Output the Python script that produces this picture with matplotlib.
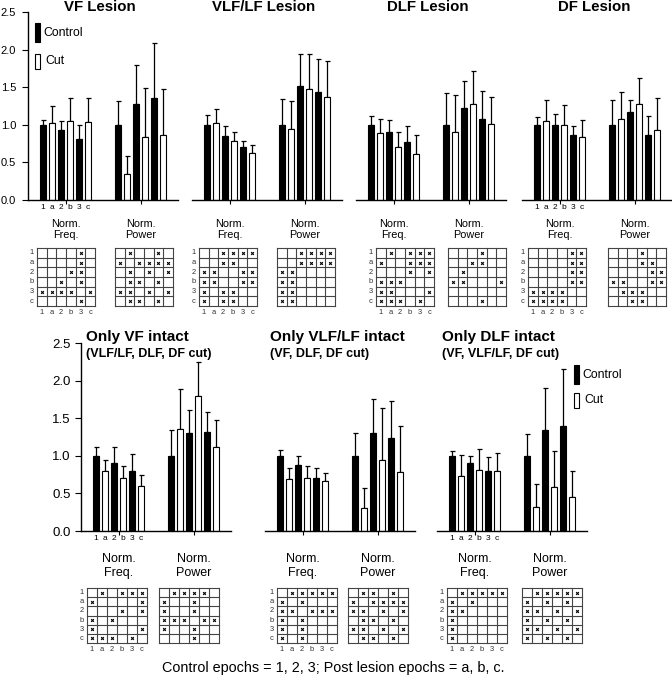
import numpy as np
import matplotlib
matplotlib.use("Agg")
import matplotlib.pyplot as plt
from matplotlib.patches import Rectangle

plt.rcParams['font.family'] = ['Liberation Sans', 'DejaVu Sans']

W, H = 672, 676

epochs = ["1", "a", "2", "b", "3", "c"]
group_labels = ["Norm.\nFreq.", "Norm.\nPower"]

# --- bar data (order 1, a, 2, b, 3, c) ---
vf_freq = [1.00, 1.02, 0.93, 1.05, 0.81, 1.04]
vf_freq_err = [0.07, 0.23, 0.12, 0.30, 0.19, 0.32]
vf_pow = [1.00, 0.34, 1.27, 0.84, 1.36, 0.87]
vf_pow_err = [0.32, 0.25, 0.52, 0.65, 0.73, 0.60]

vlf_freq = [1.00, 1.03, 0.85, 0.79, 0.70, 0.63]
vlf_freq_err = [0.13, 0.18, 0.13, 0.12, 0.09, 0.10]
vlf_pow = [1.00, 0.94, 1.52, 1.48, 1.44, 1.37]
vlf_pow_err = [0.34, 0.37, 0.42, 0.46, 0.43, 0.48]

dlf_freq = [1.00, 0.89, 0.91, 0.71, 0.77, 0.61]
dlf_freq_err = [0.12, 0.19, 0.15, 0.20, 0.21, 0.25]
dlf_pow = [1.00, 0.90, 1.22, 1.27, 1.08, 1.01]
dlf_pow_err = [0.42, 0.50, 0.36, 0.44, 0.37, 0.36]

df_freq = [1.00, 1.05, 1.00, 1.00, 0.86, 0.84]
df_freq_err = [0.10, 0.28, 0.14, 0.26, 0.13, 0.22]
df_pow = [1.00, 1.08, 1.17, 1.28, 0.87, 0.93]
df_pow_err = [0.33, 0.35, 0.16, 0.34, 0.25, 0.42]

onlyvf_freq = [1.00, 0.80, 0.91, 0.70, 0.80, 0.60]
onlyvf_freq_err = [0.12, 0.15, 0.21, 0.17, 0.23, 0.14]
onlyvf_pow = [1.00, 1.36, 1.30, 1.79, 1.31, 1.12]
onlyvf_pow_err = [0.34, 0.53, 0.31, 0.46, 0.27, 0.36]

onlyvlf_freq = [1.00, 0.69, 0.88, 0.70, 0.70, 0.66]
onlyvlf_freq_err = [0.08, 0.15, 0.12, 0.16, 0.14, 0.11]
onlyvlf_pow = [1.00, 0.30, 1.30, 0.95, 1.24, 0.79]
onlyvlf_pow_err = [0.30, 0.27, 0.45, 0.68, 0.49, 0.61]

onlydlf_freq = [1.00, 0.73, 0.90, 0.81, 0.80, 0.80]
onlydlf_freq_err = [0.06, 0.28, 0.10, 0.28, 0.19, 0.24]
onlydlf_pow = [1.00, 0.32, 1.34, 0.58, 1.40, 0.45]
onlydlf_pow_err = [0.29, 0.30, 0.56, 0.49, 0.76, 0.35]

# --- significance matrices (rows/cols = 1, a, 2, b, 3, c; x = significant) ---
vf_freq_sig = ["....x.", "....x.", "...xx.", "..x.x.", "xxxx.x", "....x."]
vf_pow_sig = [".x..x.", "x.xxxx", ".x.x.x", ".xx.x.", "xx.x.x", ".xx.x."]
vlf_freq_sig = ["..xxxx", "..xx..", "xx..xx", "xx..xx", "x.xx..", "x.xx.."]
vlf_pow_sig = ["..xxxx", "..xxxx", "xx....", "xx....", "xx....", "xx...."]
dlf_freq_sig = [".x.xxx", "x..xxx", "...x.x", "xxx...", "xx...x", "xxx.x."]
dlf_pow_sig = ["...x..", "..xx..", ".x....", "xx...x", "......", "...x.."]
df_freq_sig = ["....xx", "....xx", "....xx", "....xx", "xxxx..", "xxxx.."]
df_pow_sig = ["...x..", "...xx.", "....xx", "xx..xx", ".xxx..", "..xx.."]
onlyvf_freq_sig = [".x.xxx", "x....x", "...x.x", "x.x...", "x....x", "xxx.x."]
onlyvf_pow_sig = [".xxxx.", "x..x..", "x..x..", "xxx.xx", "x..x..", "...x.."]
onlyvlf_freq_sig = [".xxxxx", "x.x...", "xx.xxx", "x.x...", "x.x...", "x.x..."]
onlyvlf_pow_sig = [".xx.x.", "x.xxxx", "xx.x.x", ".xx.x.", "xx.x.x", ".xx.x."]
onlydlf_freq_sig = [".xxxxx", "x.x...", "xx....", "x.....", "x.....", "x....."]
onlydlf_pow_sig = [".xxxxx", "x.x.x.", "xx.x.x", "x.x.x.", "xx.x.x", "x.x.x."]

fig = plt.figure(figsize=(W / 100, H / 100), dpi=100)


def px_axes(x0, y_top, x1, y_bot):
    return fig.add_axes([x0 / W, 1 - y_bot / H, (x1 - x0) / W, (y_bot - y_top) / H])


def draw_bars(ax, freq, freq_err, power, power_err, show_y, show_epochs, big):
    offsets = (np.arange(6) - 2.5) * 0.238
    colors = ["black", "white"] * 3
    for center, vals, errs in [(1, freq, freq_err), (3, power, power_err)]:
        xs = center + offsets
        ax.errorbar(xs, vals, yerr=[np.zeros(6), errs], fmt="none", ecolor="black",
                    elinewidth=0.9, capsize=1.8, capthick=0.9, zorder=1)
        ax.bar(xs, vals, width=0.168, color=colors, edgecolor="black", linewidth=0.8, zorder=2)
    ax.set_xlim(0, 4)
    ax.set_ylim(0, 2.5)
    for s in ["top", "right"]:
        ax.spines[s].set_visible(False)
    ax.spines["bottom"].set_linewidth(1.0)
    ax.patch.set_visible(False)
    ax.set_xticks([1, 3])
    if big:
        ax.set_xticklabels(group_labels, fontsize=9, linespacing=1.2)
        ax.tick_params(axis="x", length=3, pad=13)
    else:
        ax.set_xticklabels(group_labels, fontsize=7.8, linespacing=1.1)
        ax.tick_params(axis="x", length=3, pad=11)
    if show_y:
        ax.set_yticks([0, 0.5, 1.0, 1.5, 2.0, 2.5])
        ax.set_yticklabels(["0.0", "0.5", "1.0", "1.5", "2.0", "2.5"],
                           fontsize=9.5 if big else 8)
        ax.tick_params(axis="y", length=4, pad=3.5 if big else 4.5)
        ax.spines["left"].set_linewidth(1.0)
    else:
        ax.spines["left"].set_visible(False)
        ax.set_yticks([])
    if show_epochs:
        for x, lbl in zip(1 + offsets, epochs):
            ax.annotate(lbl, xy=(x, 0), xycoords=("data", "axes fraction"),
                        xytext=(0, -3), textcoords="offset points",
                        ha="center", va="top", fontsize=6)


def draw_sig(x0, y_top, x1, y_bot, rows, labels):
    ax = px_axes(x0, y_top, x1, y_bot)
    ax.set_xlim(0, 6)
    ax.set_ylim(6, 0)
    ax.axis("off")
    for k in range(7):
        ax.plot([k, k], [0, 6], color="#444444", lw=0.8, clip_on=False)
        ax.plot([0, 6], [k, k], color="#444444", lw=0.8, clip_on=False)
    rr, cc = [], []
    for r, line in enumerate(rows):
        for c, ch in enumerate(line):
            if ch == "x":
                rr.append(r + 0.5)
                cc.append(c + 0.5)
    ax.scatter(cc, rr, marker="x", s=4, linewidths=0.8, color="black")
    if labels:
        for i, lbl in enumerate(epochs):
            ax.text(-0.35, i + 0.5, lbl, ha="right", va="center", fontsize=5.4, color="#333333")
            ax.text(i + 0.5, 6.3, lbl, ha="center", va="top", fontsize=5.4, color="#333333")


def legend(x, y_black, y_white):
    fig.add_artist(Rectangle((x / W, 1 - (y_black + 19) / H), 5 / W, 19 / H,
                             transform=fig.transFigure, facecolor="black", edgecolor="black", lw=0.8))
    fig.add_artist(Rectangle((x / W, 1 - (y_white + 15) / H), 5 / W, 15 / H,
                             transform=fig.transFigure, facecolor="white", edgecolor="black", lw=0.8))
    fig.text((x + 8) / W, 1 - (y_black + 10) / H, "Control", fontsize=8.8, va="center")
    fig.text((x + 10) / W, 1 - (y_white + 7) / H, "Cut", fontsize=8.8, va="center")


# --- top row: single lesions ---
top = [
    ("VF Lesion", 28, vf_freq, vf_freq_err, vf_pow, vf_pow_err, vf_freq_sig, vf_pow_sig, 37, 115),
    ("VLF/LF Lesion", 192, vlf_freq, vlf_freq_err, vlf_pow, vlf_pow_err, vlf_freq_sig, vlf_pow_sig, 199, 277),
    ("DLF Lesion", 356, dlf_freq, dlf_freq_err, dlf_pow, dlf_pow_err, dlf_freq_sig, dlf_pow_sig, 376, 448),
    ("DF Lesion", 522, df_freq, df_freq_err, df_pow, df_pow_err, df_freq_sig, df_pow_sig, 528, 608),
]
for i, (title, x0, f, fe, p, pe, fs, ps, gx1, gx2) in enumerate(top):
    ax = px_axes(x0, 12, x0 + 150, 200)
    draw_bars(ax, f, fe, p, pe, show_y=(i == 0), show_epochs=(i in (0, 3)), big=False)
    fig.text((x0 + 72) / W, 1 - 7 / H, title, fontsize=10.8, fontweight="bold",
             ha="center", va="center")
    draw_sig(gx1, 248, gx1 + 58, 306, fs, True)
    draw_sig(gx2, 248, gx2 + 58, 306, ps, False)
legend(35, 23, 54)

# --- bottom row: only one tract intact ---
bottom = [
    ("Only VF intact", "(VLF/LF, DLF, DF cut)", 81, onlyvf_freq, onlyvf_freq_err, onlyvf_pow,
     onlyvf_pow_err, onlyvf_freq_sig, onlyvf_pow_sig, 87, 159),
    ("Only VLF/LF intact", "(VF, DLF, DF cut)", 265, onlyvlf_freq, onlyvlf_freq_err, onlyvlf_pow,
     onlyvlf_pow_err, onlyvlf_freq_sig, onlyvlf_pow_sig, 277, 348),
    ("Only DLF intact", "(VF, VLF/LF, DF cut)", 437, onlydlf_freq, onlydlf_freq_err, onlydlf_pow,
     onlydlf_pow_err, onlydlf_freq_sig, onlydlf_pow_sig, 447, 522),
]
for i, (title, sub, x0, f, fe, p, pe, fs, ps, gx1, gx2) in enumerate(bottom):
    ax = px_axes(x0, 343, x0 + 150, 531)
    draw_bars(ax, f, fe, p, pe, show_y=(i == 0), show_epochs=(i in (0, 2)), big=True)
    fig.text((x0 + 5) / W, 1 - 337 / H, title, fontsize=11, fontweight="bold", va="center")
    fig.text((x0 + 5) / W, 1 - 354 / H, sub, fontsize=9, fontweight="bold", va="center")
    draw_sig(gx1, 588, gx1 + 60, 643, fs, True)
    draw_sig(gx2, 588, gx2 + 60, 643, ps, False)
legend(574, 365, 393)

fig.text(333 / W, 1 - 668 / H, "Control epochs = 1, 2, 3; Post lesion epochs = a, b, c.",
         fontsize=10.4, ha="center", va="center")

fig.savefig("out.png", dpi=100)
